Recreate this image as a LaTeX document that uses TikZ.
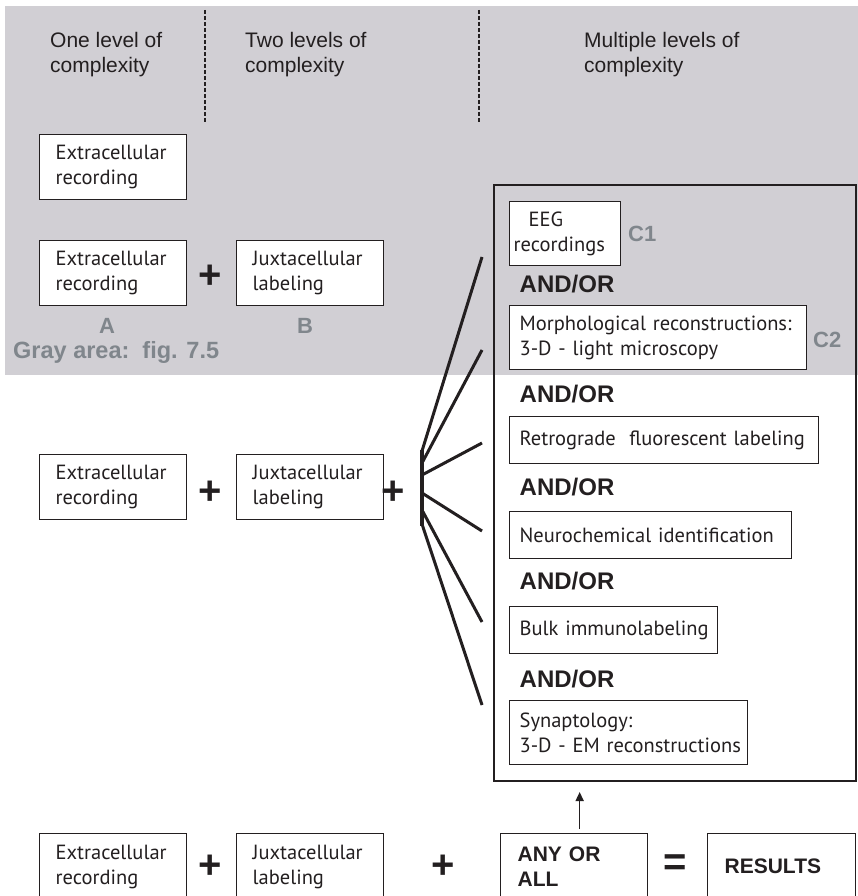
\documentclass[tikz,border=0pt]{standalone}
\usepackage{fontspec}
\setmainfont{Liberation Sans}
\newfontfamily\boxfont{PT Sans}
\usetikzlibrary{arrows.meta}
\definecolor{bggray}{RGB}{209,207,212}
\definecolor{lblgray}{RGB}{128,134,140}
\definecolor{ink}{RGB}{35,31,32}
\newcommand{\oneline}[1]{\mbox{#1}}
\begin{document}
\begin{tikzpicture}[x=1pt,y=-1pt,
  bx/.style={draw=ink, line width=1.3pt, fill=white, anchor=north west, inner ysep=0pt, align=left, text=ink, font=\boxfont\fontsize{20.5}{25}\selectfont},
  bbx/.style={bx, font=\bfseries\fontsize{21}{25}\selectfont},
  hdr/.style={anchor=north west, inner sep=0pt, align=left, text=ink, font=\fontsize{21}{25}\selectfont},
  andor/.style={anchor=base west, inner sep=0pt, text=ink, font=\bfseries\fontsize{24}{28}\selectfont},
  lbl/.style={inner sep=0pt, text=lblgray, font=\bfseries\fontsize{22}{26}\selectfont},
  plussign/.style={inner sep=0pt, text=ink, font=\bfseries\fontsize{40}{40}\selectfont},
  fanline/.style={draw=ink, line width=3pt},
  sepline/.style={draw=ink, line width=2pt, dash pattern=on 4pt off 2pt}
]
\useasboundingbox (0,0) rectangle (858,896);
% gray area
\fill[bggray] (5,6) rectangle (858,375);
\draw[sepline] (205,10) -- (205,123);
\draw[sepline] (479,10) -- (479,123);
% headers
\node[hdr] (h1) at (50,31.7) {One level of\\complexity};
\node[hdr] (h2) at (245,31.7) {Two levels of\\complexity};
\node[hdr] (h3) at (584,31.7) {Multiple levels of\\complexity};
% row 1
\node[bx, text width=115pt, inner xsep=16pt, minimum height=65pt] (ext1) at (39,134) {\oneline{Extracellular}\\\oneline{recording}};
% row 2
\node[bx, text width=115pt, inner xsep=16pt, minimum height=65pt] (ext2) at (39,240) {\oneline{Extracellular}\\\oneline{recording}};
\node[bx, text width=115pt, inner xsep=16pt, minimum height=65pt] (jux2) at (236,240) {\oneline{Juxtacellular}\\\oneline{labeling}};
\node[plussign] (p2) at (210,277) {+};
\node[lbl, anchor=base] (labA) at (107,333) {A};
\node[lbl, anchor=base] (labB) at (305,333) {B};
\node[lbl, anchor=base west, font=\bfseries\fontsize{23.5}{26}\selectfont] (gray) at (13,358) {Gray area:\ \ fig. 7.5};
% big box
\node[draw=ink, line width=2pt, anchor=north west, minimum width=362pt, minimum height=596pt, inner sep=0pt] (big) at (493,184) {};
\node[bx, text width=103pt, inner xsep=4pt, minimum height=64pt] (eeg) at (509,201) {\oneline{\hspace*{15pt}EEG}\\\oneline{recordings}};
\node[lbl, anchor=base west] (c1) at (628,241) {C1};
\node[andor] (ao1) at (519.5,292) {AND/OR};
\node[bx, text width=277pt, inner xsep=10pt, minimum height=64pt] (morph) at (509,305) {\oneline{Morphological reconstructions:}\\\oneline{3-D - light microscopy}};
\node[lbl, anchor=base west] (c2) at (813,347) {C2};
\node[andor] (ao2) at (519.5,402) {AND/OR};
\node[bx, text width=289pt, inner xsep=10pt, minimum height=47pt] (retro) at (509,416) {\oneline{Retrograde\ \ fluorescent labeling}};
\node[andor] (ao3) at (519.5,495) {AND/OR};
\node[bx, text width=262pt, inner xsep=10pt, minimum height=47pt] (neuro) at (509,511) {\oneline{Neurochemical identification}};
\node[andor] (ao4) at (519.5,589) {AND/OR};
\node[bx, text width=188pt, inner xsep=10pt, minimum height=47pt] (bulk) at (509,606) {\oneline{Bulk immunolabeling}};
\node[andor] (ao5) at (519.5,687) {AND/OR};
\node[bx, text width=218pt, inner xsep=10pt, minimum height=64pt] (syn) at (509,700) {\oneline{Synaptology:}\\\oneline{3-D - EM reconstructions}};
% row 3
\node[bx, text width=115pt, inner xsep=16pt, minimum height=65pt] (ext3) at (39,454) {\oneline{Extracellular}\\\oneline{recording}};
\node[bx, text width=115pt, inner xsep=16pt, minimum height=65pt] (jux3) at (236,454) {\oneline{Juxtacellular}\\\oneline{labeling}};
\node[plussign] (p3a) at (210,493) {+};
\node[plussign] (p3b) at (393,493) {+};
% fan
\coordinate (f0) at (422,450);
\coordinate (f7) at (422,526);
\coordinate (s1) at (422,451);
\coordinate (s2) at (422,463);
\coordinate (s3) at (422,475);
\coordinate (s4) at (422,493);
\coordinate (s5) at (422,510);
\coordinate (s6) at (422,524);
\coordinate (e1) at (482,257);
\coordinate (e2) at (482,350);
\coordinate (e3) at (482,443);
\coordinate (e4) at (482,531);
\coordinate (e5) at (482,622);
\coordinate (e6) at (482,705);
\draw[draw=ink, line width=4pt] (f0) -- (f7);
\foreach \i in {1,...,6} { \draw[fanline] (s\i) -- (e\i); }
% bottom row
\node[bx, text width=115pt, inner xsep=16pt, minimum height=66pt] (ext4) at (39,833) {\oneline{Extracellular}\\\oneline{recording}};
\node[bx, text width=115pt, inner xsep=16pt, minimum height=66pt] (jux4) at (236,833) {\oneline{Juxtacellular}\\\oneline{labeling}};
\node[plussign] (p4a) at (210,867) {+};
\node[plussign] (p4b) at (443,867) {+};
\node[bbx, text width=113pt, inner xsep=17pt, minimum height=66pt] (any) at (500,833) {\oneline{ANY OR}\\\oneline{ALL}};
\node[plussign] (eq) at (675,865) {=};
\node[bbx, text width=114pt, inner xsep=17pt, minimum height=66pt] (res) at (707,833) {\oneline{RESULTS}};
\coordinate (arrfoot) at ([xshift=5.5pt]any.north);
\draw[draw=ink, line width=1.5pt, -{Triangle[length=9pt,width=8pt]}, shorten <=4pt, shorten >=10pt] (arrfoot) -- (arrfoot |- big.south);
\end{tikzpicture}
\end{document}
